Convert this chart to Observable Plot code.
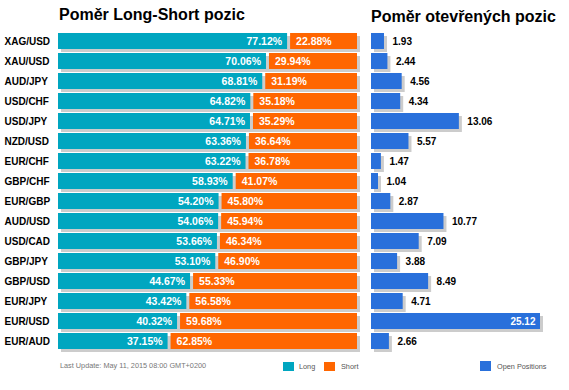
<!DOCTYPE html>
<html><head><meta charset="utf-8">
<script src="https://cdn.jsdelivr.net/npm/d3@7"></script>
<script src="https://cdn.jsdelivr.net/npm/@observablehq/plot@0.6"></script>
<style>
body{margin:0;background:#fff;font-family:"Liberation Sans",Arial,sans-serif;}
#wrap{position:relative;width:569px;height:390px;overflow:hidden;background:#fff;}
#wrap svg{position:absolute;top:0;}
.abs{position:absolute;white-space:nowrap;}
.title{font-weight:bold;font-size:16px;line-height:16px;color:#000;}
.small{font-size:7.3px;line-height:10px;}
.sw{position:absolute;width:11px;}
</style></head><body><div id="wrap"></div>
<script>
const pairs = ["XAG/USD","XAU/USD","AUD/JPY","USD/CHF","USD/JPY","NZD/USD","EUR/CHF","GBP/CHF","EUR/GBP","AUD/USD","USD/CAD","GBP/JPY","GBP/USD","EUR/JPY","EUR/USD","EUR/AUD"];
const longPct = [77.12,70.06,68.81,64.82,64.71,63.36,63.22,58.93,54.20,54.06,53.66,53.10,44.67,43.42,40.32,37.15];
const shortPct = [22.88,29.94,31.19,35.18,35.29,36.64,36.78,41.07,45.80,45.94,46.34,46.90,55.33,56.58,59.68,62.85];
const openPos = [1.93,2.44,4.56,4.34,13.06,5.57,1.47,1.04,2.87,10.77,7.09,3.88,8.49,4.71,25.12,2.66];
const titles = ["Poměr Long-Short pozic","Poměr otevřených pozic"];
const footer = "Last Update: May 11, 2015 08:00 GMT+0200";
const legendLabels = ["Long","Short","Open Positions"];

const TEAL = "#00A6C0", ORANGE = "#FF6600", BLUE = "#2970DB", SHADOW = "#CCCCCC";
const FONT = "Liberation Sans, Arial, sans-serif";

const rows = pairs.map((p,i)=>({pair:p,long:longPct[i],short:shortPct[i],open:openPos[i]}));
const total = rows.map(d=>d.long + d.short);

const left = Plot.plot({
  width:365, height:390, marginLeft:58, marginRight:8, marginTop:29, marginBottom:37,
  x:{domain:[0,100], axis:null},
  y:{domain:pairs, padding:0.2, label:null},
  style:{fontFamily:FONT, background:"transparent"},
  marks:[
    Plot.barX(rows,{x1:0,x2:(d,i)=>total[i],y:"pair",fill:SHADOW,dx:3,dy:3}),
    Plot.barX(rows,{x1:0,x2:"long",y:"pair",fill:TEAL,insetRight:1.5}),
    Plot.barX(rows,{x1:"long",x2:(d,i)=>total[i],y:"pair",fill:ORANGE,insetLeft:1.5}),
    Plot.text(rows,{x:"long",y:"pair",text:d=>d.long.toFixed(2)+"%",textAnchor:"end",dx:-7,fill:"white",fontWeight:"bold",fontSize:10.5}),
    Plot.text(rows,{x:"long",y:"pair",text:d=>d.short.toFixed(2)+"%",textAnchor:"start",dx:7,fill:"white",fontWeight:"bold",fontSize:10.5}),
    Plot.axisY({tickSize:0,tickPadding:54,textAnchor:"start",fontWeight:"bold",fontSize:10,fill:"#000",label:null})
  ]
});
left.style.left = "0px";

const maxOpen = d3.max(openPos);
const right = Plot.plot({
  width:204, height:390, marginLeft:6, marginRight:29, marginTop:29, marginBottom:37,
  x:{domain:[0,maxOpen], axis:null},
  y:{domain:pairs, padding:0.2, axis:null},
  style:{fontFamily:FONT, background:"transparent"},
  marks:[
    Plot.barX(rows,{x:"open",y:"pair",fill:SHADOW,dx:3,dy:3}),
    Plot.barX(rows,{x:"open",y:"pair",fill:BLUE}),
    Plot.text(rows.filter(d=>d.open<maxOpen),{x:"open",y:"pair",text:d=>d.open.toFixed(2),textAnchor:"start",dx:8,fill:"#000",fontWeight:"bold",fontSize:10}),
    Plot.text(rows.filter(d=>d.open===maxOpen),{x:"open",y:"pair",text:d=>d.open.toFixed(2),textAnchor:"end",dx:-5,fill:"white",fontWeight:"bold",fontSize:10})
  ]
});
right.style.left = "365px";

const wrap = document.getElementById("wrap");
wrap.appendChild(left);
wrap.appendChild(right);

function addText(txt, cls, x, y, color){
  const d = document.createElement("div");
  d.className = "abs " + cls;
  d.textContent = txt;
  d.style.left = x + "px"; d.style.top = y + "px";
  if (color) d.style.color = color;
  wrap.appendChild(d);
}
function addSwatch(color, x, y, h){
  const d = document.createElement("div");
  d.className = "sw";
  d.style.background = color;
  d.style.left = x + "px"; d.style.top = y + "px"; d.style.height = h + "px";
  wrap.appendChild(d);
}
addText(titles[0], "title", 59, 7);
addText(titles[1], "title", 371, 9);
addText(footer, "small", 60, 361, "#777");
addSwatch(TEAL, 283, 362, 9);
addText(legendLabels[0], "small", 299, 361.5, "#555");
addSwatch(ORANGE, 324, 362, 9);
addText(legendLabels[1], "small", 341, 361.5, "#555");
addSwatch(BLUE, 480, 361, 10);
addText(legendLabels[2], "small", 497, 361.5, "#555");
</script></body></html>
